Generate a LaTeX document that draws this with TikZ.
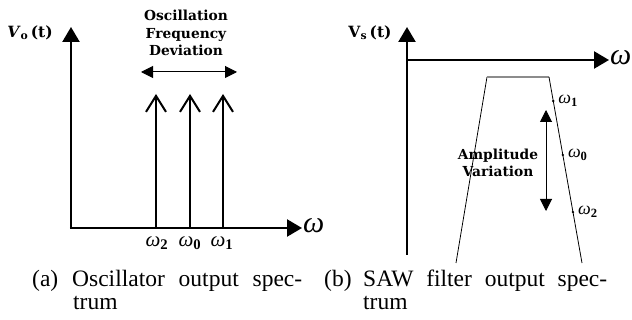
\documentclass[tikz,border=0pt]{standalone}
\usepackage{fontspec}
\setmainfont{Liberation Serif}
\newfontfamily\lblfont{DejaVu Serif}
\usetikzlibrary{arrows.meta}
\begin{document}
\begin{tikzpicture}[x=1pt,y=-1pt,
  axis/.style={line width=2.4pt, -{Triangle[length=15pt,width=17pt]}},
  spike/.style={line width=2pt, -{Straight Barb[length=16pt,width=20pt,line width=2pt]}},
  dbl/.style={line width=1pt, {Triangle[length=12pt,width=12pt]}-{Triangle[length=12pt,width=12pt]}},
  lbl/.style={font=\lblfont\bfseries\fontsize{13.8}{17.5}\selectfont, align=center, inner sep=0pt},
  vlbl/.style={font=\lblfont\bfseries\fontsize{15.5}{17}\selectfont, inner sep=0pt},
  omg/.style={font=\fontsize{21}{22}\selectfont\itshape, inner sep=0pt},
  omgr/.style={font=\fontsize{18}{20}\selectfont\itshape, inner sep=0pt},
  bigomg/.style={font=\fontsize{30}{32}\selectfont\itshape, inner sep=0pt},
  captxt/.style={font=\fontsize{23.5}{24}\selectfont, inner sep=0pt, anchor=base west},
  dot/.style={circle, fill, inner sep=0pt, minimum size=2.6pt},
  trap/.style={line width=0.8pt}]
\useasboundingbox (0,0) rectangle (632,320);
% ---------- left panel ----------
\coordinate (o1) at (71,228);
\coordinate (y1) at (71,27);
\coordinate (x1) at (302,228);
\draw[axis] (o1) -- (y1);
\draw[axis] ([xshift=-1.2pt]o1) -- (x1);
\node[vlbl] (va) at (30,33) {\textit{V}\textsubscript{o}\,(t)};
\node[bigomg, anchor=west] (wa) at (303,226) {ω};
\foreach \n/\x in {2/156,0/190,1/223}{
  \coordinate (sb\n) at (\x,228);
  \coordinate (st\n) at (\x,94);
  \draw[spike] (sb\n) -- (st\n);
}
\node[omg] (wa2) at (157,243) {ω\textsubscript{\upshape\bfseries 2}};
\node[omg] (wa0) at (190,243) {ω\textsubscript{\upshape\bfseries 0}};
\node[omg] (wa1) at (222,243) {ω\textsubscript{\upshape\bfseries 1}};
\coordinate (da) at (141,72);
\coordinate (db) at (237,72);
\draw[dbl] (da) -- (db);
\node[lbl] (osc) at (186,33) {Oscillation\\Frequency\\Deviation};
% ---------- right panel ----------
\coordinate (o2) at (407,60);
\coordinate (y2b) at (407,255);
\coordinate (y2t) at (407,27);
\coordinate (x2) at (609,60);
\draw[axis] (y2b) -- (y2t);
\draw[axis] (o2) -- (x2);
\node[vlbl] (vs) at (370,33) {V\textsubscript{s}\,(t)};
\node[bigomg, anchor=west] (wb) at (610,58) {ω};
\coordinate (tl) at (487,77);
\coordinate (tr) at (549,77);
\coordinate (bl) at (456,263);
\coordinate (br) at (582,263);
\draw[trap] (bl) -- (tl);
\draw[line width=1.6pt, black!45] (tl) -- (tr);
\draw[trap] (tr) -- (br)
  node[dot, pos=0.129] (d1) {}
  node[dot, pos=0.419] (d0) {}
  node[dot, pos=0.726] (d2) {};
\node[omgr, anchor=west] (wb1) at ([xshift=5pt]d1) {ω\textsubscript{\upshape\bfseries 1}};
\node[omgr, anchor=west] (wb0) at ([xshift=5pt]d0) {ω\textsubscript{\upshape\bfseries 0}};
\node[omgr, anchor=west] (wb2) at ([xshift=5pt]d2) {ω\textsubscript{\upshape\bfseries 2}};
\coordinate (ua) at (546,110);
\coordinate (ub) at (546,211);
\draw[dbl] (ua) -- (ub);
\node[lbl] (amp) at (498,163) {Amplitude\\Variation};
% ---------- captions ----------
\node[captxt] (ca) at (32,287) {(a)};
\node[captxt] (ca1) at (72,287) {\makebox[230pt][s]{Oscillator output spec-}};
\node[captxt] (ca2) at (73,310) {trum};
\node[captxt] (cb) at (324,287) {(b)};
\node[captxt] (cb1) at (363,287) {\makebox[244pt][s]{SAW filter output spec-}};
\node[captxt] (cb2) at (363,310) {trum};
\end{tikzpicture}
\end{document}
